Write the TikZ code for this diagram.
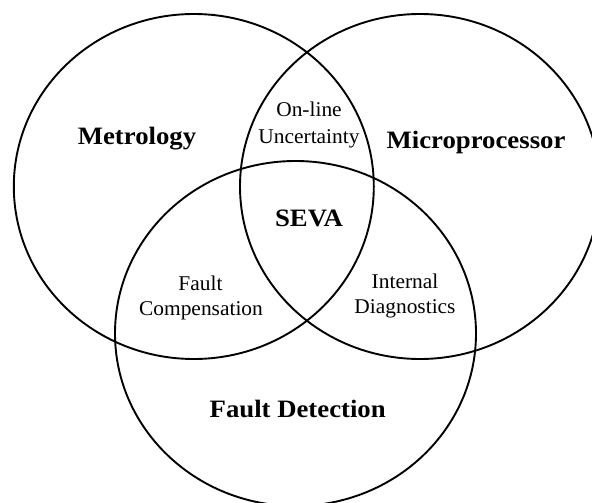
\documentclass[tikz,border=0pt]{standalone}
\usepackage{fontspec}
\setmainfont{Liberation Serif}
\usepackage{graphicx}
\usetikzlibrary{shapes.geometric}
% horizontally widened lettering
\newcommand{\wideword}[2][1.07]{\scalebox{#1}[1]{#2}}
\begin{document}
\begin{tikzpicture}[x=1pt, y=-1pt,
  setring/.style={draw, ellipse, line width=1.9pt, inner sep=0pt,
    minimum width=360pt, minimum height=345pt},
  bigtag/.style={anchor=base, inner sep=0pt,
    font=\fontsize{25}{29}\selectfont\bfseries},
  smalltag/.style={anchor=base, inner sep=0pt,
    font=\fontsize{21}{25}\selectfont}]
\useasboundingbox (0,0) rectangle (592,503);
\clip (0,0) rectangle (592,503);

% the three sets
\node[setring] (metro) at (193.8,186.5) {};
\node[setring] (micro) at (420,186.5) {};
\node[setring, minimum width=361pt] (fault) at (295.5,333.5) {};

% set names
\node[bigtag] (metrology) at (137,144) {\wideword{Metrology}};
\node[bigtag] (microproc) at (476,148) {\wideword{Microprocessor}};
\node[bigtag] (faultdet) at (297.7,417) {\wideword{Fault Detection}};

% overlaps
\node[smalltag] (online) at (309,116.7) {\wideword[1.02]{On-line}};
\node[smalltag] (uncert) at (309,143.3) {\wideword[1.02]{Uncertainty}};
\node[bigtag] (seva) at (309,226.7) {\wideword{SEVA}};
\node[smalltag] (faultw) at (200.5,290.7) {\wideword[1.02]{Fault}};
\node[smalltag] (comp) at (201,315.7) {\wideword[1.02]{Compensation}};
\node[smalltag] (internal) at (405,288.3) {\wideword[1.02]{Internal}};
\node[smalltag] (diag) at (405,313.3) {\wideword[1.02]{Diagnostics}};
\end{tikzpicture}
\end{document}
